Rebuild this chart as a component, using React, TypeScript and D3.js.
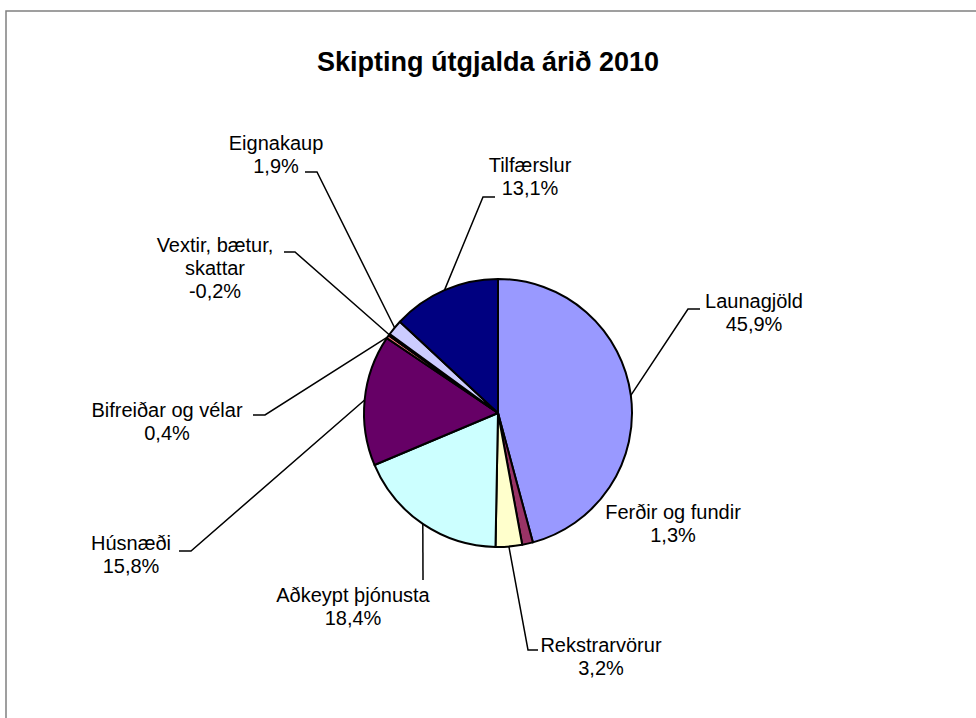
import React from 'react';
import * as d3 from 'd3';

// data (clockwise from 12 o'clock)
const categories = [
  'Launagjöld',
  'Ferðir og fundir',
  'Rekstrarvörur',
  'Aðkeypt þjónusta',
  'Húsnæði',
  'Bifreiðar og vélar',
  'Vextir, bætur, skattar',
  'Eignakaup',
  'Tilfærslur',
];
const shares = [45.9, 1.3, 3.2, 18.4, 15.8, 0.4, -0.2, 1.9, 13.1];
const labelLines = [
  ['Launagjöld'],
  ['Ferðir og fundir'],
  ['Rekstrarvörur'],
  ['Aðkeypt þjónusta'],
  ['Húsnæði'],
  ['Bifreiðar og vélar'],
  ['Vextir, bætur,', 'skattar'],
  ['Eignakaup'],
  ['Tilfærslur'],
];
const colors = ['#9999FF', '#993366', '#FFFFCC', '#CCFFFF', '#660066', '#FF8080', '#0066CC', '#CCCCFF', '#000080'];
const title = 'Skipting útgjalda árið 2010';

// label placement: text centre x, first baseline, leader start/bend (null = no leader)
const labelLayout: { x: number; y: number; leader: [number, number, number, number] | null }[] = [
  { x: 754, y: 308, leader: [700, 309, 688, 309] },
  { x: 673, y: 519, leader: null },
  { x: 601, y: 652, leader: [538, 650, 528, 650] },
  { x: 353, y: 602, leader: [423, 580, 423, 580] },
  { x: 131, y: 550, leader: [179, 551, 191, 551] },
  { x: 167, y: 417, leader: [253, 415, 265, 415] },
  { x: 215, y: 252, leader: [284, 252, 295, 252] },
  { x: 276, y: 150, leader: [305, 172, 317, 172] },
  { x: 530, y: 172, leader: [495, 197, 483, 197] },
];

const W = 976;
const H = 718;
const cx = 498;
const cy = 413;
const radius = 134;
const font = '"Liberation Sans", Arial, sans-serif';

const fmt = (v: number) => v.toFixed(1).replace('.', ',') + '%';

export default function App() {
  const pie = d3.pie<number>().sort(null).value(d => Math.abs(d));
  const arcs = pie(shares);
  const arc = d3.arc<d3.PieArcDatum<number>>().innerRadius(0).outerRadius(radius);
  const edge = d3.arc<d3.PieArcDatum<number>>().innerRadius(radius).outerRadius(radius);

  return (
    <svg width={W} height={H} style={{ position: 'absolute', left: 0, top: 0, background: '#fff' }}>
      <rect x={6} y={11} width={W + 10} height={H + 10} fill="#fff" stroke="#808080" strokeWidth={1.5} />
      <text x={488} y={71} textAnchor="middle" fontFamily={font} fontWeight="bold" fontSize={27}>
        {title}
      </text>
      <g transform={`translate(${cx},${cy})`}>
        {arcs.map((a, i) => (
          <path key={categories[i]} d={arc(a) || ''} fill={colors[i]} stroke="#000" strokeWidth={2} strokeLinejoin="round" />
        ))}
      </g>
      {arcs.map((a, i) => {
        const lay = labelLayout[i];
        if (!lay.leader) return null;
        const [ex, ey] = edge.centroid(a);
        const [x1, y1, x2, y2] = lay.leader;
        return (
          <polyline
            key={'l' + i}
            points={`${x1},${y1} ${x2},${y2} ${cx + ex},${cy + ey}`}
            fill="none"
            stroke="#000"
            strokeWidth={1.5}
          />
        );
      })}
      {categories.map((c, i) => {
        const lay = labelLayout[i];
        const lines = [...labelLines[i], fmt(shares[i])];
        return (
          <text key={'t' + c} textAnchor="middle" fontFamily={font} fontSize={20} fill="#000">
            {lines.map((ln, j) => (
              <tspan key={j} x={lay.x} y={lay.y + j * 23}>
                {ln}
              </tspan>
            ))}
          </text>
        );
      })}
    </svg>
  );
}
